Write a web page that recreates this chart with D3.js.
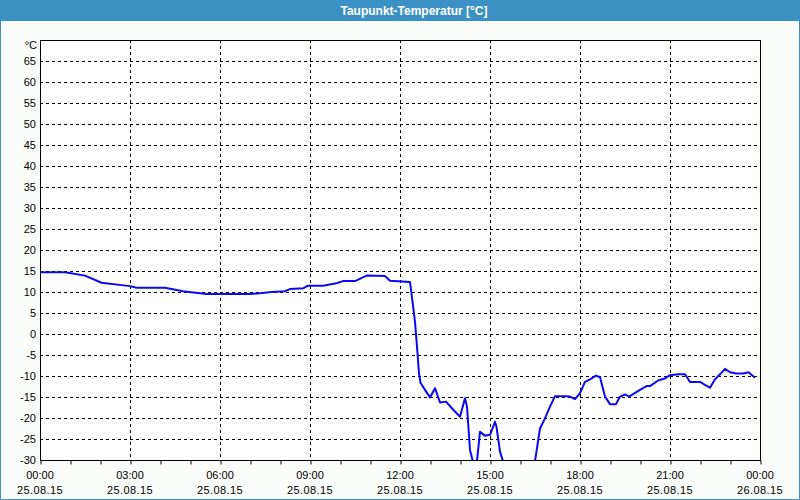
<!DOCTYPE html>
<html>
<head>
<meta charset="utf-8">
<script src="https://cdn.jsdelivr.net/npm/d3@7"></script>
<style>
  html, body { margin: 0; padding: 0; background: #fbfdfb; }
  svg { display: block; }
</style>
</head>
<body>
<svg id="chart" width="800" height="500"></svg>
<script>
const title = "Taupunkt-Temperatur [°C]";
const unitLabel = "°C";
const dayStart = "2015-08-25T00:00";
const dayEnd = "2015-08-26T00:00";
const yTicks = [-30, -25, -20, -15, -10, -5, 0, 5, 10, 15, 20, 25, 30, 35, 40, 45, 50, 55, 60, 65];
const times = ["00:00","00:50","01:30","02:03","03:00","03:13","04:10","04:46","05:33","06:20","07:00","07:20","07:43","08:10","08:20","08:47","08:56","09:26","09:53","10:06","10:30","10:53","11:30","11:40","12:20","12:23","12:30","12:34","12:38","12:41","12:50","13:00","13:10","13:20","13:32","13:47","14:00","14:10","14:14","14:20","14:26","14:30","14:34","14:40","14:50","15:00","15:10","15:13","15:20","15:26","15:48","16:12","16:30","16:40","16:50","17:00","17:10","17:30","17:40","17:50","18:00","18:10","18:20","18:32","18:40","18:50","19:00","19:12","19:20","19:30","19:38","20:00","20:13","20:20","20:37","20:50","21:00","21:17","21:30","21:40","22:00","22:10","22:20","22:30","22:40","22:50","23:00","23:13","23:26","23:37","23:50"];
const values = [14.7,14.7,13.9,12.2,11.4,11.0,11.0,10.2,9.5,9.5,9.5,9.7,10.0,10.2,10.7,10.9,11.5,11.5,12.1,12.6,12.6,13.9,13.8,12.7,12.4,9.7,2.9,-3.0,-9.4,-11.6,-13.3,-15.1,-12.9,-16.3,-16.1,-18.1,-19.7,-15.3,-17.3,-27.6,-30.5,-31.0,-30.2,-23.3,-24.2,-24.0,-20.9,-22.1,-28.0,-30.3,-34.0,-34.0,-30.3,-22.5,-20.1,-17.3,-14.8,-14.8,-14.9,-15.5,-14.1,-11.4,-10.8,-9.9,-10.3,-14.9,-16.7,-16.7,-14.9,-14.4,-14.9,-13.3,-12.4,-12.4,-11.0,-10.6,-9.8,-9.6,-9.6,-11.4,-11.4,-12.1,-12.8,-10.8,-9.6,-8.3,-9.1,-9.4,-9.4,-9.1,-10.4];

const W = 800, H = 500;
const m = { left: 40, right: 40, top: 40, bottom: 40 };
const svg = d3.select("#chart");
const parse = d3.timeParse("%Y-%m-%dT%H:%M");
const t0 = parse(dayStart), t1 = parse(dayEnd);
const x = d3.scaleTime().domain([t0, t1]).range([m.left, W - m.right]);
const y = d3.scaleLinear().domain([-30, 70]).range([H - m.bottom, m.top]);

const data = times.map((t, i) => ({ t: parse("2015-08-25T" + t), v: values[i] }));

// background
svg.append("rect").attr("x", 0).attr("y", 0).attr("width", W).attr("height", H).attr("fill", "#fbfdfb");
// title bar
svg.append("rect").attr("x", 0).attr("y", 0).attr("width", W).attr("height", 21).attr("fill", "#3c91c4");
svg.append("text").attr("x", 414).attr("y", 15).attr("text-anchor", "middle")
  .attr("font-family", "Liberation Sans, Arial, sans-serif").attr("font-weight", "bold")
  .attr("font-size", 12).attr("fill", "#ffffff").text(title);
// outer border
svg.append("path").attr("d", `M0.5,21 V${H-0.5} H${W-0.5} V21`).attr("fill", "none").attr("stroke", "#3c91c4").attr("stroke-width", 1);

// plot area
svg.append("rect").attr("x", m.left).attr("y", m.top).attr("width", W - m.left - m.right).attr("height", H - m.top - m.bottom).attr("fill", "#ffffff");

const font = "Liberation Sans, Arial, sans-serif";

// horizontal grid
const hg = svg.append("g");
yTicks.filter(v => v > -30).forEach(v => {
  hg.append("line").attr("x1", m.left).attr("x2", W - m.right)
    .attr("y1", Math.round(y(v)) + 0.5).attr("y2", Math.round(y(v)) + 0.5)
    .attr("stroke", "#000").attr("stroke-dasharray", "3,3").attr("stroke-width", 1);
});
// vertical grid every 3 hours
const majorTicks = d3.timeHour.every(3).range(t0, d3.timeMinute.offset(t1, 1));
majorTicks.filter(d => d > t0 && d < t1).forEach(d => {
  hg.append("line").attr("x1", Math.round(x(d)) + 0.5).attr("x2", Math.round(x(d)) + 0.5)
    .attr("y1", m.top).attr("y2", H - m.bottom)
    .attr("stroke", "#000").attr("stroke-dasharray", "3,3").attr("stroke-width", 1);
});

// data line (clipped)
svg.append("clipPath").attr("id", "clip").append("rect")
  .attr("x", m.left).attr("y", m.top).attr("width", W - m.left - m.right).attr("height", H - m.top - m.bottom);
const line = d3.line().x(d => x(d.t)).y(d => y(d.v));
svg.append("path").datum(data).attr("clip-path", "url(#clip)")
  .attr("d", line).attr("fill", "none").attr("stroke", "#0a0af0").attr("stroke-width", 2).attr("stroke-linejoin", "round");

// frame
svg.append("rect").attr("x", m.left + 0.5).attr("y", m.top + 0.5)
  .attr("width", W - m.left - m.right).attr("height", H - m.top - m.bottom)
  .attr("fill", "none").attr("stroke", "#000").attr("stroke-width", 1);

// x axis
const xAxis = d3.axisBottom(x).ticks(d3.timeHour.every(1)).tickSize(4).tickFormat("");
const gx = svg.append("g").attr("transform", `translate(0.5,${H - m.bottom + 0.5})`).call(xAxis);
gx.select(".domain").remove();
gx.selectAll("line").attr("stroke", "#000");
const fmtTime = d3.timeFormat("%H:%M"), fmtDate = d3.timeFormat("%d.%m.%y");
const xl = svg.append("g").attr("font-family", font).attr("font-size", 11).attr("fill", "#000").attr("text-anchor", "middle");
majorTicks.forEach(d => {
  xl.append("text").attr("x", x(d)).attr("y", 479).text(fmtTime(d));
  xl.append("text").attr("x", x(d)).attr("y", 494).attr("letter-spacing", 0.4).text(fmtDate(d));
});

// y axis labels
const yl = svg.append("g").attr("font-family", font).attr("font-size", 11).attr("fill", "#000").attr("text-anchor", "end");
yTicks.forEach(v => {
  yl.append("text").attr("x", 36).attr("y", y(v) + 4).text(v);
});
yl.append("text").attr("x", 37).attr("y", 49).text(unitLabel);
</script>
</body>
</html>
